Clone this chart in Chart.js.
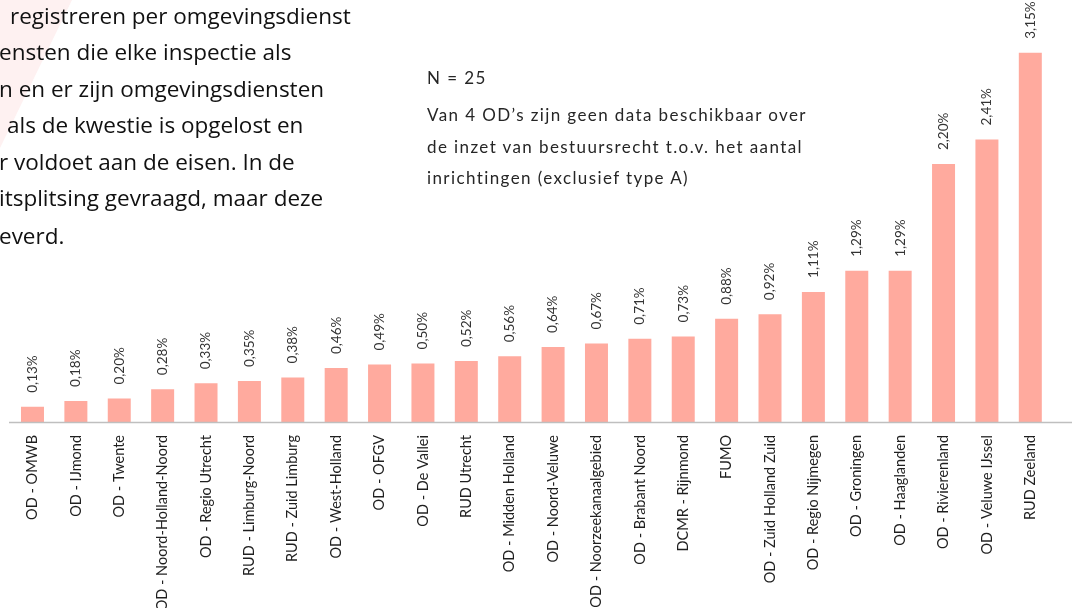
<!DOCTYPE html>
<html>
<head>
<meta charset="utf-8">
<script src="https://cdn.jsdelivr.net/npm/chart.js@4"></script>
<style>
  html, body { margin:0; padding:0; background:#fff; }
  #wrap { position:relative; width:1081px; height:608px; overflow:hidden; }
  #shape { position:absolute; left:0; top:0; width:1081px; height:608px; }
  #chartBox { position:absolute; left:0; top:0; width:1081px; height:608px; }
  .para { position:absolute; font-family:"Open Sans", sans-serif; font-size:22.5px; line-height:30px; color:#111; white-space:nowrap; }
  .note { position:absolute; left:427px; font-family:Lato, sans-serif; font-size:17px; letter-spacing:1.4px; line-height:20px; color:#262626; white-space:nowrap; }
</style>
</head>
<body>
<div id="wrap">
  <svg id="shape"><polygon points="0,0 72,0 0,148" fill="#fef1f1"/></svg>
  <div id="chartBox"><canvas id="barChart" width="1081" height="608"></canvas></div>
  <div class="para" style="left:10px;top:1px">registreren per omgevingsdienst</div>
  <div class="para" style="left:-1px;top:37px">ensten die elke inspectie als</div>
  <div class="para" style="left:-1px;top:74px">n en er zijn omgevingsdiensten</div>
  <div class="para" style="left:7px;top:110px">als de kwestie is opgelost en</div>
  <div class="para" style="left:-1px;top:147px">r voldoet aan de eisen. In de</div>
  <div class="para" style="left:-1px;top:183px">itsplitsing gevraagd, maar deze</div>
  <div class="para" style="left:-1px;top:221px">everd.</div>
  <div class="note" style="top:68px">N = 25</div>
  <div class="note" style="top:105px">Van 4 OD’s zijn geen data beschikbaar over</div>
  <div class="note" style="top:137px">de inzet van bestuursrecht t.o.v. het aantal</div>
  <div class="note" style="top:168px">inrichtingen (exclusief type A)</div>
</div>
<script>
var categories = ["OD - OMWB","OD - IJmond","OD - Twente","OD - Noord-Holland-Noord",
                  "OD - Regio Utrecht","RUD - Limburg-Noord","RUD - Zuid Limburg","OD - West-Holland",
                  "OD - OFGV","OD - De Vallei","RUD Utrecht","OD - Midden Holland",
                  "OD - Noord-Veluwe","OD - Noorzeekanaalgebied","OD - Brabant Noord","DCMR - Rijnmond",
                  "FUMO","OD - Zuid Holland Zuid","OD - Regio Nijmegen","OD - Groningen",
                  "OD - Haaglanden","OD - Rivierenland","OD - Veluwe IJssel","RUD Zeeland"];
var percentages = [0.13,0.18,0.20,0.28,0.33,0.35,0.38,0.46,
                   0.49,0.50,0.52,0.56,0.64,0.67,0.71,0.73,
                   0.88,0.92,1.11,1.29,1.29,2.20,2.41,3.15];

function fmt(v){
  return v.toFixed(2).replace('.', ',') + '%';
}

// baseline line + value labels on top of the bars
var barExtras = {
  id: 'barExtras',
  afterDatasetsDraw: function(chart){
    var ctx = chart.ctx;
    var area = chart.chartArea;
    ctx.save();
    ctx.strokeStyle = '#bfbfbf';
    ctx.lineWidth = 1.5;
    ctx.beginPath();
    ctx.moveTo(9, area.bottom + 0.5);
    ctx.lineTo(1072, area.bottom + 0.5);
    ctx.stroke();

    var meta = chart.getDatasetMeta(0);
    ctx.fillStyle = '#333';
    ctx.font = '13.5px Lato, sans-serif';
    ctx.textAlign = 'left';
    ctx.textBaseline = 'middle';
    meta.data.forEach(function(bar, i){
      ctx.save();
      ctx.translate(bar.x, bar.y - 14);
      ctx.rotate(-Math.PI / 2);
      ctx.fillText(fmt(percentages[i]), 0, 0);
      ctx.restore();
    });
    ctx.restore();
  }
};

var ctx = document.getElementById('barChart');
var chart = new Chart(ctx, {
  type: 'bar',
  data: {
    labels: categories,
    datasets: [{
      label: '',
      data: percentages,
      backgroundColor: '#ffaa9e',
      borderWidth: 0,
      categoryPercentage: 1.0,
      barPercentage: 0.53
    }]
  },
  options: {
    responsive: false,
    animation: false,
    layout: { padding: { left: 10.8, right: 29, top: 11.7, bottom: 0 } },
    plugins: { legend: { display: false }, tooltip: { enabled: false } },
    scales: {
      x: {
        grid: { display: false, drawTicks: false },
        border: { display: false },
        ticks: {
          autoSkip: false,
          minRotation: 90,
          maxRotation: 90,
          padding: 13,
          color: '#1f1f1f',
          font: { family: 'Lato', size: 14.5 }
        },
        afterFit: function(scale){ scale.height = 186; }
      },
      y: {
        display: false,
        min: 0,
        max: 3.5
      }
    }
  },
  plugins: [barExtras]
});
</script>
</body>
</html>
